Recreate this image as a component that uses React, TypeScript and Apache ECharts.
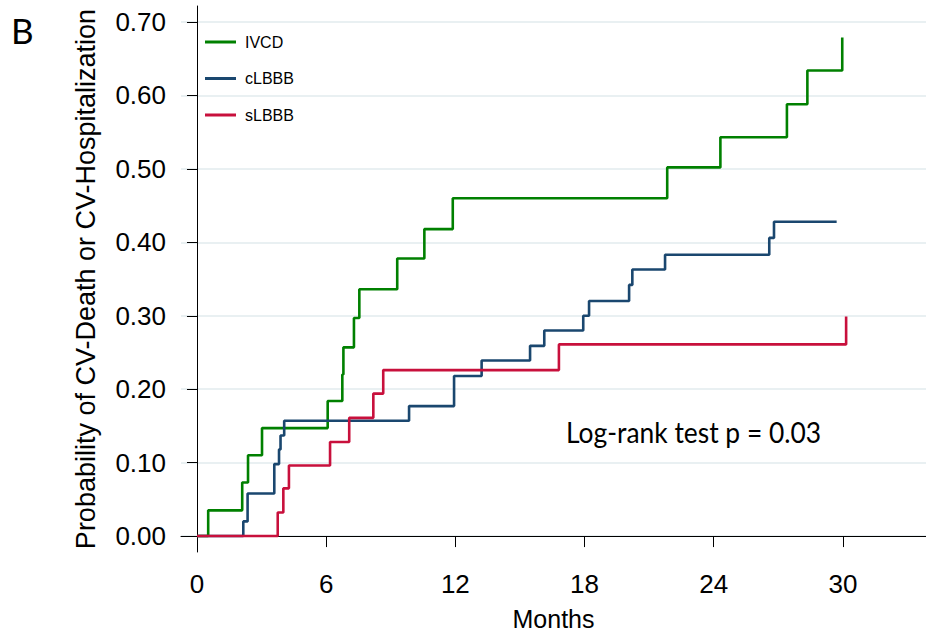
import React, { useEffect, useRef } from "react";
import * as echarts from "echarts";

const monthTicks = [0, 6, 12, 18, 24, 30];
const probTicks = [0, 0.1, 0.2, 0.3, 0.4, 0.5, 0.6, 0.7];

const seriesNames = ["IVCD", "cLBBB", "sLBBB"];

const ivcdTime = [0, 0.52, 2.1, 2.37, 3.02, 6.07, 6.75, 6.8, 7.29, 7.54, 9.3, 10.56, 11.88, 21.84, 24.31, 27.4, 28.35, 29.97];
const ivcdProb = [0, 0.035, 0.073, 0.11, 0.147, 0.184, 0.22, 0.257, 0.297, 0.336, 0.378, 0.418, 0.46, 0.502, 0.543, 0.588, 0.634, 0.679];

const clbbbTime = [0, 2.15, 2.35, 3.59, 3.81, 3.88, 4.05, 9.85, 11.94, 13.22, 15.47, 16.13, 17.94, 18.21, 20.07, 20.22, 21.74, 26.58, 26.8, 29.71];
const clbbbProb = [0, 0.02, 0.058, 0.098, 0.118, 0.137, 0.157, 0.177, 0.218, 0.239, 0.259, 0.28, 0.3, 0.32, 0.342, 0.363, 0.383, 0.406, 0.428, 0.428];

const slbbbTime = [0, 3.75, 4.01, 4.27, 6.18, 7.07, 8.19, 8.65, 16.81, 30.15];
const slbbbProb = [0, 0.032, 0.065, 0.096, 0.128, 0.161, 0.194, 0.226, 0.261, 0.299];

const colors = ["#008000", "#1a476f", "#c8103c"];

const FONT = "'Liberation Sans', Arial, sans-serif";

export default function App() {
  const ref = useRef<HTMLDivElement>(null);
  useEffect(() => {
    document.body.style.margin = "0";
    const chart = echarts.init(ref.current!, null, { renderer: "svg" });
    const pair = (t: number[], p: number[]) => t.map((x, i) => [x, p[i]]);
    const data = [pair(ivcdTime, ivcdProb), pair(clbbbTime, clbbbProb), pair(slbbbTime, slbbbProb)];
    chart.setOption({
      animation: false,
      backgroundColor: "#ffffff",
      grid: { left: 181, right: 0, top: 6, bottom: 82 },
      xAxis: {
        type: "value",
        min: -0.743,
        max: 33.86,
        axisLine: { show: true, lineStyle: { color: "#000", width: 1 } },
        axisTick: { show: true, customValues: monthTicks, length: 11, lineStyle: { color: "#000" } },
        axisLabel: { customValues: monthTicks, fontSize: 26, color: "#000", margin: 19, fontFamily: FONT },
        splitLine: { show: false },
        name: "Months",
        nameLocation: "middle",
        nameGap: 54,
        nameTextStyle: { fontSize: 25, color: "#000", fontFamily: FONT },
      },
      yAxis: {
        type: "value",
        min: -0.0217,
        max: 0.7218,
        axisLine: { show: true, lineStyle: { color: "#000", width: 1 } },
        axisTick: { show: true, customValues: probTicks, length: 10, lineStyle: { color: "#000" } },
        axisLabel: {
          customValues: probTicks,
          fontSize: 26,
          color: "#000",
          margin: 15,
          fontFamily: FONT,
          formatter: (v: number) => v.toFixed(2),
        },
        splitLine: { show: true, lineStyle: { color: "#e9f0f2", width: 2 } },
        name: "Probability of CV-Death or CV-Hospitalization",
        nameLocation: "middle",
        nameGap: 82,
        nameTextStyle: { fontSize: 27, color: "#000", fontFamily: FONT },
      },
      legend: {
        orient: "vertical",
        left: 200,
        top: 29,
        icon: "rect",
        itemWidth: 31,
        itemHeight: 3,
        itemGap: 20.5,
        data: seriesNames,
        textStyle: { fontSize: 16, color: "#000", fontFamily: FONT, padding: [0, 0, 0, 4] },
      },
      series: seriesNames.map((name, i) => ({
        name,
        type: "line",
        step: "end",
        data: data[i],
        symbol: "none",
        showSymbol: false,
        z: 3,
        lineStyle: { color: colors[i], width: 2.6 },
        itemStyle: { color: colors[i] },
      })),
      graphic: [
        {
          type: "text",
          x: 11,
          y: 12,
          style: { text: "B", fontSize: 35, fill: "#000", fontFamily: "Lato, 'Open Sans', sans-serif" },
        },
        {
          type: "text",
          x: 566,
          y: 432,
          scaleX: 0.91,
          style: {
            text: "Log-rank test p = 0.03",
            fontSize: 29,
            fill: "#000",
            fontFamily: "Lato, 'Open Sans', sans-serif",
            verticalAlign: "middle",
          },
        },
      ],
    });
    return () => chart.dispose();
  }, []);
  return <div ref={ref} style={{ width: 926, height: 636 }} />;
}
